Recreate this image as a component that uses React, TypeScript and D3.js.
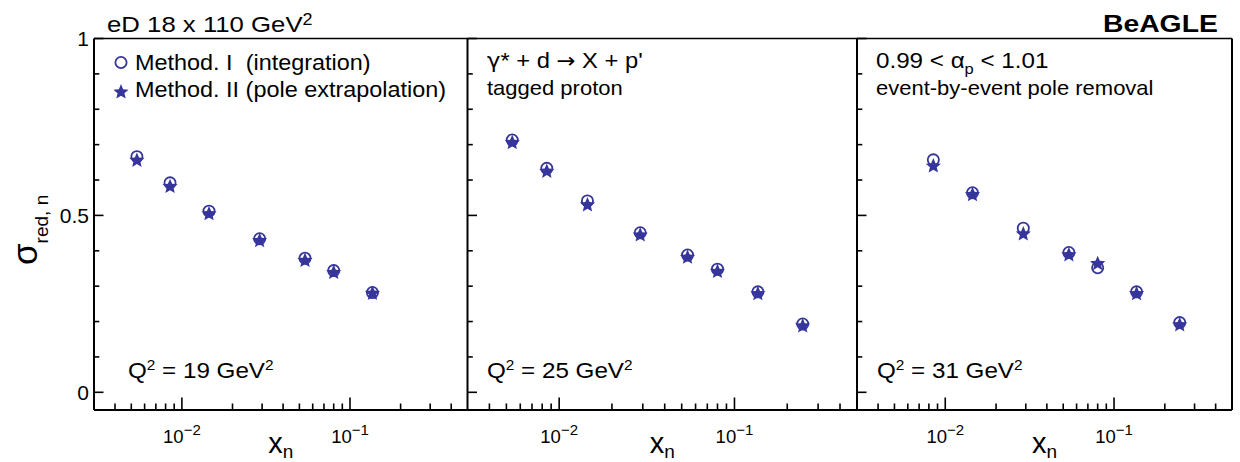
import React from 'react'
import * as d3 from 'd3'

// x_n bin centres for each Q2 panel
const xnQ19 = [0.0054, 0.0085, 0.0145, 0.029, 0.054, 0.08, 0.136]
const xnQ25 = [0.0054, 0.0085, 0.0145, 0.029, 0.054, 0.08, 0.136, 0.245]
const xnQ31 = [0.0085, 0.0145, 0.029, 0.054, 0.08, 0.136, 0.245]

// Method I (integration)
const integrationQ19 = [0.666, 0.592, 0.512, 0.434, 0.379, 0.344, 0.282]
const integrationQ25 = [0.713, 0.633, 0.541, 0.451, 0.388, 0.348, 0.284, 0.193]
const integrationQ31 = [0.657, 0.564, 0.464, 0.395, 0.352, 0.284, 0.197]

// Method II (pole extrapolation)
const poleQ19 = [0.657, 0.583, 0.506, 0.43, 0.374, 0.34, 0.281]
const poleQ25 = [0.707, 0.626, 0.531, 0.446, 0.383, 0.343, 0.28, 0.189]
const poleQ31 = [0.641, 0.56, 0.449, 0.39, 0.365, 0.28, 0.192]

const q2Values = ['19', '25', '31']
const yMajorTicks = [0, 0.5, 1]
const yMinorTicks = [0.1, 0.2, 0.3, 0.4, 0.6, 0.7, 0.8, 0.9]
const xTickLabels = [{ v: 0.01, exp: '\u22122' }, { v: 0.1, exp: '\u22121' }]

const W = 1240
const H = 462
const TOP = 38.5
const BOTTOM = 410
const COLOR = '#35359b'
const FONT = '"Liberation Sans", Arial, Helvetica, sans-serif'

const frames = [
    { left: 94, right: 467.5, qx: 128 },
    { left: 467.5, right: 857, qx: 487 },
    { left: 857, right: 1232, qx: 877 },
]

const panelData = [
    { xn: xnQ19, m1: integrationQ19, m2: poleQ19 },
    { xn: xnQ25, m1: integrationQ25, m2: poleQ25 },
    { xn: xnQ31, m1: integrationQ31, m2: poleQ31 },
]

const yScale = d3.scaleLinear().domain([-0.05, 1]).range([BOTTOM, TOP])

// chunky root-style star: 10 points alternating outer / inner radius
const starPts: [number, number][] = d3.range(10).map((i) => [(i * Math.PI) / 5, i % 2 ? 3.6 : 8])
const starPath = d3.lineRadial().curve(d3.curveLinearClosed)(starPts) as string

// stretched text, the original latex labels run a bit wider than Arial
const Label = ({ x, y, sx = 1.1, size, weight = 'normal', children }: any) => (
    <g transform={`translate(${x},${y}) scale(${sx},1)`}>
        <text x={0} y={0} fontSize={size} fontWeight={weight} fontFamily={FONT} fill="#000">
            {children}
        </text>
    </g>
)

const Circle = ({ x, y }: any) => (
    <circle cx={x} cy={y} r={5.6} fill="none" stroke={COLOR} strokeWidth={1.8} />
)
const Star = ({ x, y }: any) => (
    <path d={starPath} transform={`translate(${x},${y + 0.6})`} fill={COLOR} />
)

const Panel = ({ idx }: any) => {
    const f = frames[idx]
    const p = panelData[idx]
    const x = d3.scaleLog().domain([0.003, 0.5]).range([f.left, f.right])
    const xTicks = x.ticks().filter((t) => t > 0.003 && t < 0.5)
    const isMajor = (t: number) => Math.abs(Math.log10(t) - Math.round(Math.log10(t))) < 1e-6
    return (
        <g>
            {/* y ticks on left axis, pointing in */}
            {yMajorTicks.map((t) => (
                <line key={'ym' + t} x1={f.left} x2={f.left + 9.5} y1={yScale(t)} y2={yScale(t)} stroke="#000" strokeWidth={1.6} />
            ))}
            {yMinorTicks.map((t) => (
                <line key={'yn' + t} x1={f.left} x2={f.left + 5.3} y1={yScale(t)} y2={yScale(t)} stroke="#000" strokeWidth={1.6} />
            ))}
            {xTicks.map((t) => (
                <line key={'x' + t} x1={x(t)} x2={x(t)} y1={BOTTOM} y2={BOTTOM - (isMajor(t) ? 12.5 : 6.5)} stroke="#000" strokeWidth={1.6} />
            ))}
            {xTickLabels.map((t) => (
                <text key={'xl' + t.v} x={x(t.v)} y={442.5} fontSize={18.5} fontFamily={FONT} textAnchor="middle">
                    10<tspan dy={-8} fontSize={15}>{t.exp}</tspan>
                </text>
            ))}
            <text x={(f.left + f.right) / 2} y={453} fontSize={29} fontFamily={FONT} textAnchor="middle">
                x<tspan dy={5} fontSize={19}>n</tspan>
            </text>
            {p.xn.map((v, i) => (
                <Circle key={'c' + i} x={x(v)} y={yScale(p.m1[i])} />
            ))}
            {p.xn.map((v, i) => (
                <Star key={'s' + i} x={x(v)} y={yScale(p.m2[i])} />
            ))}
            <Label x={f.qx} y={377.5} size={22} sx={1.1}>
                Q<tspan dy={-8} fontSize={14}>2</tspan>
                <tspan dy={8}> = {q2Values[idx]} GeV</tspan>
                <tspan dy={-8} fontSize={14}>2</tspan>
            </Label>
        </g>
    )
}

const App = () => {
    return (
        <svg width={W} height={H} style={{ position: 'absolute', left: 0, top: 0, background: '#fff' }}>
            <rect x={0} y={0} width={W} height={H} fill="#fff" />
            {frames.map((f, i) => (
                <Panel key={i} idx={i} />
            ))}
            {/* frames */}
            <line x1={frames[0].left} x2={frames[2].right} y1={TOP} y2={TOP} stroke="#000" strokeWidth={1.7} />
            <line x1={frames[0].left} x2={frames[2].right} y1={BOTTOM} y2={BOTTOM} stroke="#000" strokeWidth={2} />
            {[frames[0].left, frames[1].left, frames[2].left, frames[2].right].map((xx) => (
                <line key={'v' + xx} x1={xx} x2={xx} y1={TOP} y2={BOTTOM} stroke="#000" strokeWidth={2} />
            ))}

            {/* y tick labels */}
            {yMajorTicks.map((t) => (
                <text key={'yl' + t} x={89} y={yScale(t)} dy="0.36em" fontSize={21} fontFamily={FONT} textAnchor="end">
                    {t}
                </text>
            ))}
            <text transform="translate(37,265) rotate(-90)" fontSize={35} fontFamily={FONT}>
                σ<tspan dy={11} fontSize={19}>red, n</tspan>
            </text>

            {/* header */}
            <Label x={107} y={32} size={23} sx={1.12}>
                eD 18 x 110 GeV<tspan dy={-7} fontSize={16}>2</tspan>
            </Label>
            <Label x={1103} y={32} size={24} sx={1.18} weight="bold">
                BeAGLE
            </Label>

            {/* legend */}
            <Circle x={121} y={62.5} />
            <Label x={135} y={69.5} size={21.5} sx={1.09}>
                Method. I{'\u00a0\u00a0'}(integration)
            </Label>
            <Star x={121} y={91.5} />
            <Label x={135} y={97} size={21.5} sx={1.09}>
                Method. II (pole extrapolation)
            </Label>

            {/* panel 2 text */}
            <Label x={487} y={68} size={22} sx={1.08}>
                <tspan fontFamily='"DejaVu Sans"' fontSize={21}>γ</tspan>* + d{' '}
                <tspan fontFamily='"DejaVu Sans"' fontSize={21}>→</tspan> X + p'
            </Label>
            <Label x={487} y={95} size={20} sx={1.1}>
                tagged proton
            </Label>

            {/* panel 3 text */}
            <Label x={876} y={68} size={22} sx={1.1}>
                0.99 &lt; α<tspan dy={6} fontSize={15}>p</tspan>
                <tspan dy={-6}> &lt; 1.01</tspan>
            </Label>
            <Label x={876} y={95} size={20} sx={1.1}>
                event-by-event pole removal
            </Label>
        </svg>
    )
}

export default App
